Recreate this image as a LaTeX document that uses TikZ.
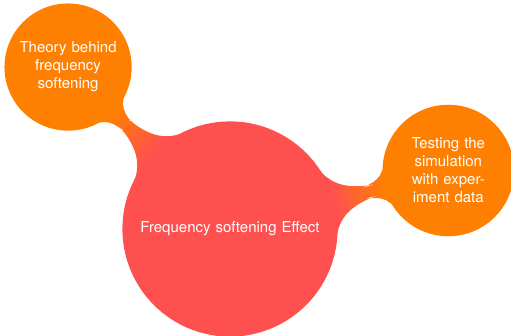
\documentclass[tikz,border=0pt]{standalone}
\usepackage{fontspec}
\setmainfont{TeX Gyre Heros}
\usetikzlibrary{mindmap}

\definecolor{rootred}{RGB}{255,80,80}
\definecolor{branchorange}{RGB}{255,128,0}

\begin{document}
\begin{tikzpicture}[x=1pt,y=1pt,
  mindmap,
  concept color=rootred,
  every node/.style={concept, text=white, font=\fontsize{15}{18}\selectfont},
  root concept/.append style={minimum size=214pt, text width=200pt,
    font=\fontsize{15}{18}\selectfont},
  level 1 concept/.append style={minimum size=126pt, text width=110pt,
    font=\fontsize{15}{18}\selectfont}]
  \useasboundingbox (0,0) rectangle (511,335);
  \node[root concept] (root) at (230,106) {Frequency softening Effect}
    child[concept color=branchorange, grow=135, level distance=229pt]
      {node[concept] (theory) {Theory behind\\frequency\\softening}}
    child[concept color=branchorange, grow=15.4, level distance=226pt]
      {node[concept] (testing) {Testing the\\simulation\\with exper-\\iment data}};
\end{tikzpicture}
\end{document}
